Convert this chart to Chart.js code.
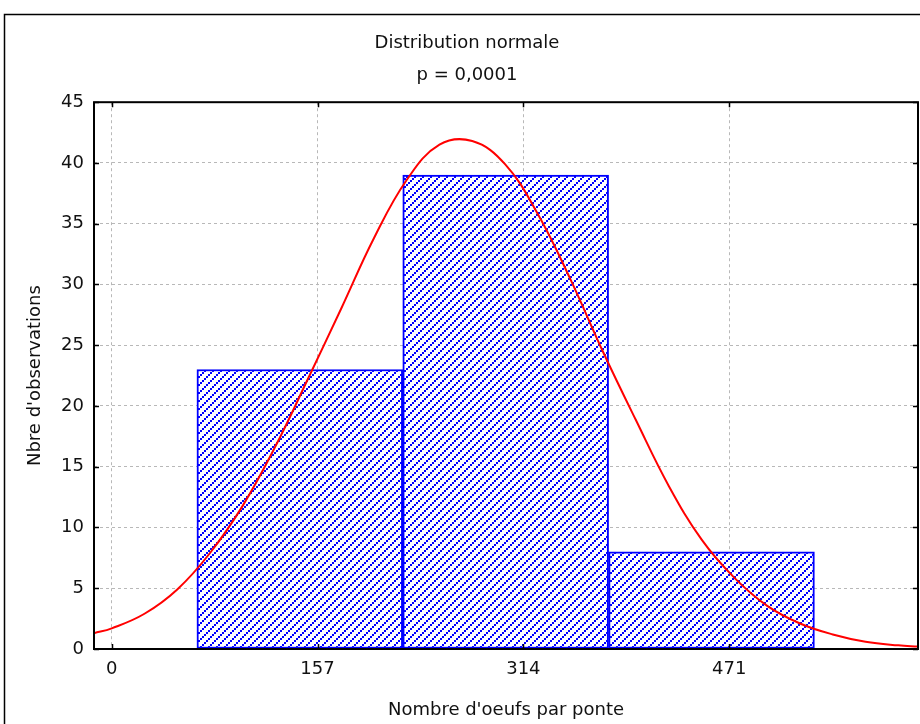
<!DOCTYPE html>
<html>
<head>
<meta charset="utf-8">
<script src="https://cdn.jsdelivr.net/npm/chart.js@4.4.0/dist/chart.umd.min.js"></script>
<style>
  html, body { margin: 0; padding: 0; background: #fff; }
</style>
</head>
<body>
<canvas id="histo" width="920" height="724"></canvas>
<script>
// classes de l'histogramme (largeur 157) et effectifs
const binCenters = [143.5, 300.5, 457.5];
const binCounts = [23, 39, 8];

// courbe normale, points
const curveX = [-13.5, 0, 25, 50, 75, 100, 125, 150, 175, 200, 225, 250, 275, 300, 325, 350, 375, 400, 425, 450, 475, 500, 525, 550, 575, 600, 615];
const curveY = [1.3, 1.7, 2.9, 4.9, 7.9, 11.8, 16.7, 22.3, 28.0, 33.8, 38.6, 41.5, 41.8, 39.9, 35.8, 30.4, 24.4, 18.8, 13.4, 9.0, 5.85, 3.55, 2.1, 1.2, 0.6, 0.3, 0.2];

const xTicks = [0, 157, 314, 471];
const yTicks = [0, 5, 10, 15, 20, 25, 30, 35, 40, 45];

Chart.defaults.font.family = "'DejaVu Sans', sans-serif";
Chart.defaults.font.size = 18;
Chart.defaults.color = '#111';

// motif hachuré bleu (tirets en diagonale)
function makeHatch() {
    const c = document.createElement('canvas');
    c.width = 8;
    c.height = 8;
    const g = c.getContext('2d');
    g.fillStyle = '#fff';
    g.fillRect(0, 0, 8, 8);
    g.fillStyle = '#0000ff';
    [0, 2, 4, 6].forEach(k => {
        g.fillRect(k, 6 - k, 2, 2);
    });
    // un petit creux dans chaque diagonale
    g.fillStyle = '#fff';
    g.fillRect(3, 3, 1, 1);
    g.fillRect(7, 7, 1, 1);
    return g.createPattern(c, 'repeat');
}

// cadre du graphique, petites graduations vers l'intérieur
const cadre = {
    id: 'cadre',
    beforeDraw(chart) {
        const ctx = chart.ctx;
        ctx.save();
        ctx.fillStyle = '#fff';
        ctx.fillRect(0, 0, chart.width, chart.height);
        ctx.strokeStyle = '#000';
        ctx.lineWidth = 1.5;
        ctx.strokeRect(4.5, 14.5, chart.width + 20, chart.height + 20);
        ctx.restore();
    },
    afterDraw(chart) {
        const { ctx, chartArea: a, scales } = chart;
        ctx.save();
        ctx.strokeStyle = '#000';
        ctx.lineWidth = 2;
        ctx.strokeRect(a.left, a.top, a.right - a.left, a.bottom - a.top);
        ctx.lineWidth = 1.5;
        ctx.beginPath();
        xTicks.forEach(v => {
            const px = Math.round(scales.x.getPixelForValue(v)) + 0.5;
            ctx.moveTo(px, a.bottom); ctx.lineTo(px, a.bottom - 5);
            ctx.moveTo(px, a.top); ctx.lineTo(px, a.top + 5);
        });
        yTicks.forEach(v => {
            const py = Math.round(scales.y.getPixelForValue(v)) + 0.5;
            ctx.moveTo(a.left, py); ctx.lineTo(a.left + 5, py);
            ctx.moveTo(a.right, py); ctx.lineTo(a.right - 5, py);
        });
        ctx.stroke();
        ctx.restore();
    }
};

const ctx = document.getElementById('histo').getContext('2d');
new Chart(ctx, {
    type: 'bar',
    data: {
        datasets: [{
            type: 'line',
            label: 'Normale',
            data: curveX.map((x, i) => ({ x: x, y: curveY[i] })),
            borderColor: '#ff0000',
            borderWidth: 2,
            pointRadius: 0,
            tension: 0.4,
            fill: false,
            order: 0
        }, {
            label: 'Observations',
            data: binCenters.map((x, i) => ({ x: x, y: binCounts[i] })),
            backgroundColor: makeHatch(),
            borderColor: '#0000ff',
            borderWidth: 2,
            borderSkipped: false,
            barPercentage: 1,
            categoryPercentage: 1,
            order: 1
        }]
    },
    options: {
        responsive: false,
        animation: false,
        layout: { padding: { top: 20, left: 16, right: 2, bottom: 0 } },
        plugins: {
            legend: { display: false },
            tooltip: { enabled: false },
            title: {
                display: true,
                text: 'Distribution normale',
                font: { size: 18, weight: 'normal' },
                color: '#111',
                padding: { top: 13, bottom: 0 }
            },
            subtitle: {
                display: true,
                text: 'p = 0,0001',
                font: { size: 18, weight: 'normal' },
                color: '#111',
                padding: { top: 10, bottom: 16 }
            }
        },
        scales: {
            x: {
                type: 'linear',
                min: -13.5,
                max: 615,
                offset: false,
                afterBuildTicks: scale => { scale.ticks = xTicks.map(v => ({ value: v })); },
                afterFit: scale => { scale.height = 75; },
                ticks: { padding: 10, autoSkip: false, maxRotation: 0, callback: v => String(v) },
                grid: { color: '#b8b8b8', lineWidth: 1, drawTicks: false, offset: false },
                border: { display: false, dash: [3, 3] },
                title: {
                    display: true,
                    text: "Nombre d'oeufs par ponte",
                    padding: { top: 0, bottom: 3 }
                }
            },
            y: {
                min: 0,
                max: 45,
                afterBuildTicks: scale => { scale.ticks = yTicks.map(v => ({ value: v })); },
                afterFit: scale => { scale.width = 78; },
                ticks: { padding: 10 },
                grid: { color: '#b8b8b8', lineWidth: 1, drawTicks: false },
                border: { display: false, dash: [3, 3] },
                title: {
                    display: true,
                    text: "Nbre d'observations",
                    padding: { top: 9, bottom: 0 }
                }
            }
        }
    },
    plugins: [cadre]
});
</script>
</body>
</html>
